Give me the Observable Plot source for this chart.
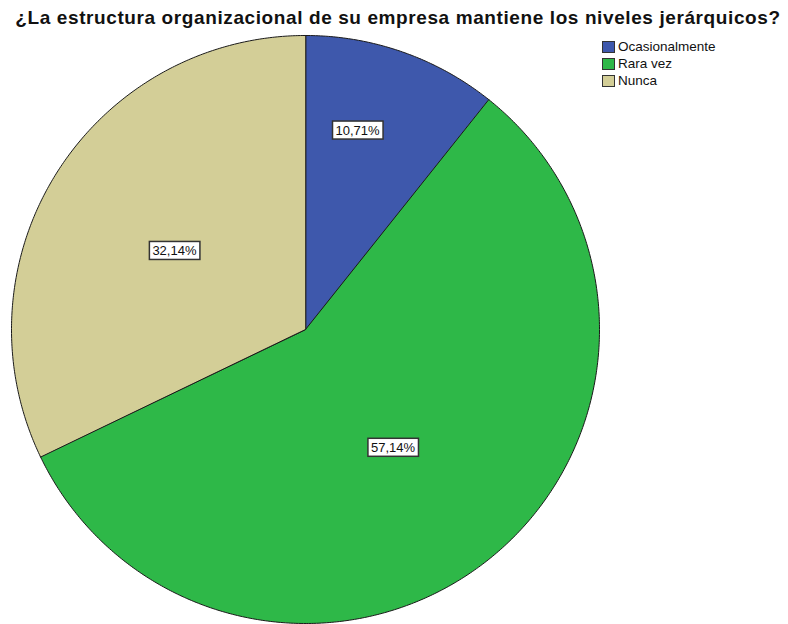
<!DOCTYPE html>
<html>
<head>
<meta charset="utf-8">
<script src="https://cdn.jsdelivr.net/npm/d3@7"></script>
<script src="https://cdn.jsdelivr.net/npm/@observablehq/plot@0.6"></script>
<style>
  html, body { margin: 0; padding: 0; background: #fff; }
  #wrap { position: relative; width: 788px; height: 624px; overflow: hidden; font-family: "Liberation Sans", Arial, sans-serif; }
  #title { position: absolute; left: 0; top: 7px; width: 796px; text-align: center; font-weight: bold; font-size: 19px; letter-spacing: 0.6px; color: #111; white-space: nowrap; }
  #chart { position: absolute; left: 0; top: 30px; }
  #legend { position: absolute; left: 602px; top: 38px; font-size: 13.5px; color: #111; }
  .row { display: flex; align-items: center; height: 17px; }
  .sw { width: 13px; height: 12px; border: 1px solid #333; margin-right: 3px; box-sizing: border-box; }
</style>
</head>
<body>
<div id="wrap">
  <div id="title"></div>
  <div id="chart"></div>
  <div id="legend"></div>
</div>
<script>
const titleText = "¿La estructura organizacional de su empresa mantiene los niveles jerárquicos?";
const categories = ["Ocasionalmente", "Rara vez", "Nunca"];
const percents = [10.71, 57.14, 32.14];
const labels = ["10,71%", "57,14%", "32,14%"];
const colors = ["#3E58AC", "#2EB848", "#D3CE97"];

document.getElementById("title").textContent = titleText;

// layout constants (not data): where inside each slice its label sits
const labelAngleFrac = [0.38, 0.51, 0.49];
const labelRadius = [0.70, 0.50, 0.52];

const total = d3.sum(percents);
let acc = 0;
const slices = categories.map((c, i) => {
  const a0 = acc / total * 2 * Math.PI;
  acc += percents[i];
  const a1 = acc / total * 2 * Math.PI;
  return {cat: c, a0, a1, label: labels[i], i};
});

const pts = [];
for (const s of slices) {
  pts.push({cat: s.cat, x: 0, y: 0});
  const n = Math.max(2, Math.ceil((s.a1 - s.a0) / (Math.PI / 360)));
  for (let k = 0; k <= n; k++) {
    const a = s.a0 + (s.a1 - s.a0) * k / n;
    pts.push({cat: s.cat, x: Math.sin(a), y: Math.cos(a)});
  }
}
const labelPts = slices.map(s => {
  const m = s.a0 + (s.a1 - s.a0) * labelAngleFrac[s.i];
  const r = labelRadius[s.i];
  return {label: s.label, x: r * Math.sin(m), y: r * Math.cos(m)};
});

const chart = Plot.plot({
  width: 788,
  height: 594,
  margin: 0,
  x: {domain: [-1, 1], range: [11, 599], axis: null},
  y: {domain: [-1, 1], range: [593, 5], axis: null},
  color: {domain: categories, range: colors},
  style: {fontFamily: "'Liberation Sans', Arial, sans-serif", background: "transparent"},
  marks: [
    Plot.line(pts, {x: "x", y: "y", z: "cat", fill: "cat", stroke: "#1a1a1a", strokeWidth: 1, curve: "linear-closed", strokeLinejoin: "round"}),
    Plot.text(labelPts, {x: "x", y: "y", text: "label", fontSize: 13, fill: "#111"})
  ]
});
document.getElementById("chart").appendChild(chart);

// white label boxes behind texts
const texts = chart.querySelectorAll('g[aria-label="text"] text');
texts.forEach(t => {
  const b = t.getBBox();
  const r = document.createElementNS("http://www.w3.org/2000/svg", "rect");
  r.setAttribute("x", b.x - 3);
  r.setAttribute("y", b.y - 1.5);
  r.setAttribute("width", b.width + 6);
  r.setAttribute("height", b.height + 3);
  r.setAttribute("fill", "#fff");
  r.setAttribute("stroke", "#333");
  r.setAttribute("stroke-width", "1.5");
  const tr = t.getAttribute("transform");
  if (tr) r.setAttribute("transform", tr);
  t.parentNode.insertBefore(r, t);
});

const legend = document.getElementById("legend");
categories.forEach((c, i) => {
  const row = document.createElement("div");
  row.className = "row";
  const sw = document.createElement("div");
  sw.className = "sw";
  sw.style.background = colors[i];
  const tx = document.createElement("span");
  tx.textContent = c;
  row.appendChild(sw);
  row.appendChild(tx);
  legend.appendChild(row);
});
</script>
</body>
</html>
